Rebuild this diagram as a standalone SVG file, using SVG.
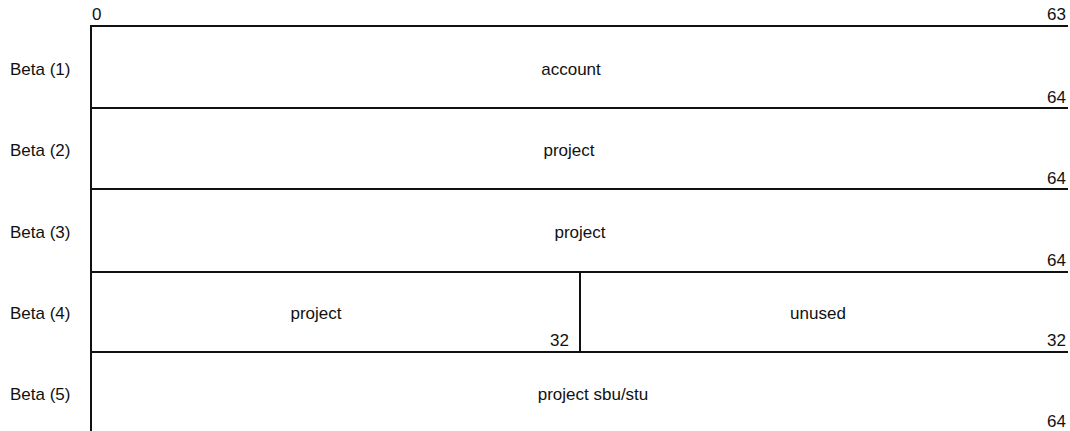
<svg xmlns="http://www.w3.org/2000/svg" width="1070" height="431" viewBox="0 0 1070 431">
<style>
text{font-family:"Liberation Sans",Arial,sans-serif;font-size:17px;fill:#111}
.c{text-anchor:middle}
.r{text-anchor:end}
line{stroke:#111;stroke-width:2}
</style>
<rect width="1070" height="431" fill="#fff"/>
<g id="connectors">
<line x1="91" y1="25" x2="91" y2="431"/>
<line x1="90" y1="26" x2="1068" y2="26"/>
<line x1="90" y1="108" x2="1068" y2="108"/>
<line x1="90" y1="189" x2="1068" y2="189"/>
<line x1="90" y1="272" x2="1068" y2="272"/>
<line x1="90" y1="352" x2="1068" y2="352"/>
<line x1="580" y1="272" x2="580" y2="352"/>
</g>
<g id="scale">
<text x="92" y="20">0</text>
<text class="r" x="1066" y="20">63</text>
</g>
<g id="row1">
<text x="10" y="75">Beta (1)</text>
<text class="c" x="571" y="75">account</text>
<text class="r" x="1066" y="103">64</text>
</g>
<g id="row2">
<text x="10" y="156">Beta (2)</text>
<text class="c" x="569" y="156">project</text>
<text class="r" x="1066" y="184">64</text>
</g>
<g id="row3">
<text x="10" y="238">Beta (3)</text>
<text class="c" x="580" y="238">project</text>
<text class="r" x="1066" y="266">64</text>
</g>
<g id="row4">
<text x="10" y="319">Beta (4)</text>
<text class="c" x="316" y="319">project</text>
<text class="r" x="569" y="346">32</text>
<text class="c" x="818" y="319">unused</text>
<text class="r" x="1066" y="346">32</text>
</g>
<g id="row5">
<text x="10" y="400">Beta (5)</text>
<text class="c" x="593" y="400">project sbu/stu</text>
<text class="r" x="1066" y="427">64</text>
</g>
</svg>
